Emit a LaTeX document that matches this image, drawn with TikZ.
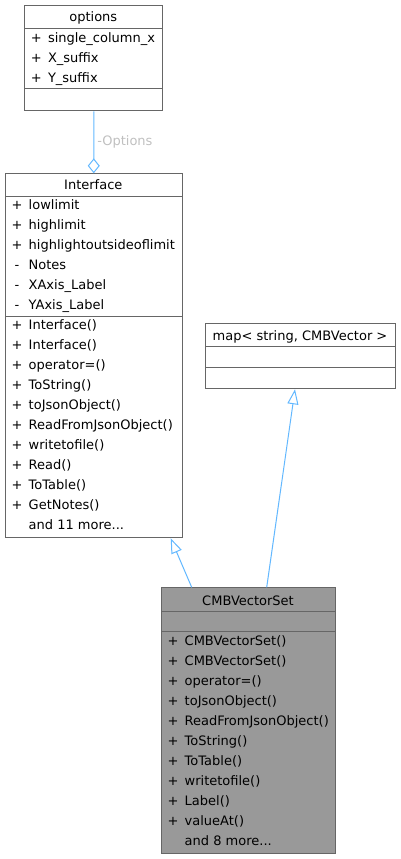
\documentclass[tikz,border=0pt]{standalone}
\usepackage{fontspec}
\setmainfont{DejaVu Sans}
\usetikzlibrary{arrows.meta, calc, positioning}
\definecolor{boxgray}{HTML}{666666}
\definecolor{linkblue}{HTML}{63B8FF}
\definecolor{labelgray}{HTML}{C0C0C0}
\definecolor{setfill}{HTML}{999999}

\begin{document}
\begin{tikzpicture}[
			x=1pt, y=-1pt,
			font=\fontsize{13}{16}\selectfont,
			class_box/.style={
				rectangle,
				draw=boxgray,
				line width=1pt,
				fill=white,
				anchor=north west,
				inner sep=0pt
			},
			title/.style={
				anchor=base,
				inner sep=0pt
			},
			vis/.style={
				anchor=base,
				inner sep=0pt
			},
			member/.style={
				anchor=base west,
				inner sep=0pt
			},
			sep_line/.style={
				draw=boxgray,
				line width=1pt
			},
			link/.style={
				draw=linkblue,
				line width=1pt
			},
			inherit/.style={
				link,
				-{Triangle[open, length=15pt, width=11pt]}
			},
			aggregate/.style={
				link,
				-{Diamond[open, length=15pt, width=12pt]}
			},
			edge_label/.style={
				text=labelgray,
				inner sep=3pt
			}
			]
			
			\useasboundingbox (0,0) rectangle (400,859);
			
			% Classes
			
			\node [class_box, minimum width=138pt, minimum height=105.6pt] (options) at (24.3,4.7) {};
			\node [class_box, minimum width=176.5pt, minimum height=364pt] (interface) at (5,173.3) {};
			\node [class_box, minimum width=190pt, minimum height=65pt] (vecmap) at (205,323.3) {};
			\node [class_box, fill=setfill, minimum width=174pt, minimum height=266pt] (vecset) at (161,587.3) {};
			
			% Separators
			
			\draw [sep_line] (options.west |- 0,28.3) -- (options.east |- 0,28.3);
			\draw [sep_line] (options.west |- 0,88.7) -- (options.east |- 0,88.7);
			
			\draw [sep_line] (interface.west |- 0,196) -- (interface.east |- 0,196);
			\draw [sep_line] (interface.west |- 0,316) -- (interface.east |- 0,316);
			
			\draw [sep_line] (vecmap.west |- 0,346.7) -- (vecmap.east |- 0,346.7);
			\draw [sep_line] (vecmap.west |- 0,367.3) -- (vecmap.east |- 0,367.3);
			
			\draw [sep_line] (vecset.west |- 0,611.7) -- (vecset.east |- 0,611.7);
			\draw [sep_line] (vecset.west |- 0,631) -- (vecset.east |- 0,631);
			
			% Titles
			
			\node [title] (options_title) at (93.3,21.8) {options};
			\node [title] (interface_title) at (93.3,189.5) {Interface};
			\node [title] (vecmap_title) at (300,340.2) {map< string, CMBVector >};
			\node [title] (vecset_title) at (248,605.2) {CMBVectorSet};
			
			% Members
			
			\foreach \v/\name [count=\i from 0] in {+/single\_column\_x, +/X\_suffix, +/Y\_suffix} {
				\node [vis] (options_v\i) at (36.3,42.5+20*\i) {\v};
				\node [member] (options_m\i) at (47.8,42.5+20*\i) {\name};
			}
			
			\foreach \v/\name [count=\i from 0] in {+/lowlimit, +/highlimit, +/highlightoutsideoflimit, -/Notes, -/XAxis\_Label, -/YAxis\_Label} {
				\node [vis] (interface_v\i) at (17,209.5+20*\i) {\v};
				\node [member] (interface_m\i) at (28.5,209.5+20*\i) {\name};
			}
			
			\foreach \name [count=\i from 0] in {Interface(), Interface(), operator=(), ToString(), toJsonObject(), ReadFromJsonObject(), writetofile(), Read(), ToTable(), GetNotes()} {
				\node [vis] (interface_fv\i) at (17,329.5+20*\i) {+};
				\node [member] (interface_f\i) at (28.5,329.5+20*\i) {\name};
			}
			\node [member] (interface_more) at (28.5,529.5) {and 11 more...};
			
			\foreach \name [count=\i from 0] in {CMBVectorSet(), CMBVectorSet(), operator=(), toJsonObject(), ReadFromJsonObject(), ToString(), ToTable(), writetofile(), Label(), valueAt()} {
				\node [vis] (vecset_fv\i) at (173,645.2+20*\i) {+};
				\node [member] (vecset_f\i) at (184.5,645.2+20*\i) {\name};
			}
			\node [member] (vecset_more) at (184.5,845.2) {and 8 more...};
			
			% Connections
			
			\draw [aggregate] (options.south) -- node [edge_label, right] (options_label) {-Options} (interface.north);
			
			\draw [inherit] ($(vecset.north west)+(30.7,0)$) -- ($(interface.south west)+(165.7,0)$);
			\draw [inherit] ($(vecset.north west)+(105.7,0)$) -- ($(vecmap.south west)+(90,0)$);
			
		\end{tikzpicture}
\end{document}
